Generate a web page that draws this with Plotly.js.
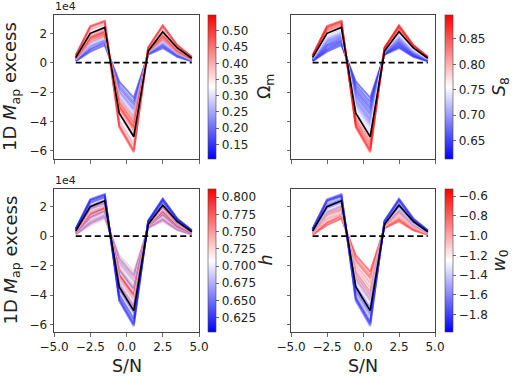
<!DOCTYPE html>
<html>
<head>
<meta charset="utf-8">
<script src="https://cdn.plot.ly/plotly-3.0.1.min.js"></script>
<style>
  html, body { margin: 0; padding: 0; background: #fff; }
  #chart { width: 519px; height: 377px; }
</style>
</head>
<body>
<div id="chart"></div>
<script>
// S/N bin centres
const snBins = [-3.5, -2.5, -1.5, -0.5, 0.5, 1.5, 2.5, 3.5, 4.5];

// fiducial cosmology excess (units of 1e4)
const fiducialExcess = [0.35, 2.0, 2.4, -3.45, -5.05, 0.8, 2.1, 1.0, 0.3];

// cosmological parameters of each model
const omegaM = [0.105, 0.160, 0.135, 0.210, 0.190, 0.250, 0.300, 0.240, 0.420, 0.470, 0.360, 0.520, 0.450,
                0.390, 0.549, 0.500, 0.430, 0.280, 0.480, 0.330, 0.310, 0.440, 0.290, 0.510, 0.535];
const s8 = [0.614, 0.625, 0.640, 0.632, 0.655, 0.668, 0.650, 0.680, 0.692, 0.672, 0.700, 0.688, 0.712,
            0.705, 0.722, 0.735, 0.745, 0.728, 0.760, 0.815, 0.840, 0.862, 0.850, 0.880, 0.897];
const hubble = [0.745, 0.640, 0.770, 0.660, 0.725, 0.690, 0.780, 0.630, 0.700, 0.760, 0.812, 0.795, 0.735,
                0.680, 0.750, 0.715, 0.650, 0.785, 0.670, 0.620, 0.700, 0.604, 0.640, 0.615, 0.610];
const w0 = [-0.529, -0.750, -0.620, -1.100, -0.880, -1.350, -0.950, -1.200, -0.700, -1.050, -1.500, -0.820, -1.150,
            -1.650, -0.990, -1.400, -1.280, -1.750, -1.550, -1.850, -1.700, -1.450, -1.900, -1.976, -1.800];

// 1D Map excess of each model (units of 1e4), one row per model
const modelExcess = [
  [0.10, 0.75, 1.20, -1.30, -2.40, 0.55, 1.00, 0.40, 0.10],
  [0.13, 0.87, 1.31, -1.51, -2.65, 0.58, 1.11, 0.45, 0.12],
  [0.15, 0.94, 1.42, -1.70, -2.85, 0.63, 1.17, 0.50, 0.14],
  [0.17, 1.06, 1.49, -1.85, -3.05, 0.64, 1.27, 0.54, 0.15],
  [0.19, 1.15, 1.54, -1.99, -3.20, 0.68, 1.31, 0.57, 0.17],
  [0.20, 1.20, 1.62, -2.10, -3.35, 0.68, 1.40, 0.61, 0.18],
  [0.22, 1.25, 1.71, -2.24, -3.50, 0.71, 1.44, 0.63, 0.19],
  [0.24, 1.34, 1.76, -2.35, -3.65, 0.72, 1.52, 0.67, 0.20],
  [0.25, 1.43, 1.80, -2.45, -3.80, 0.73, 1.60, 0.71, 0.21],
  [0.26, 1.46, 1.87, -2.58, -3.90, 0.76, 1.62, 0.72, 0.22],
  [0.27, 1.51, 1.93, -2.64, -4.00, 0.77, 1.69, 0.75, 0.23],
  [0.28, 1.57, 1.95, -2.72, -4.10, 0.78, 1.71, 0.77, 0.24],
  [0.29, 1.60, 2.00, -2.81, -4.20, 0.79, 1.75, 0.79, 0.25],
  [0.31, 1.64, 2.06, -2.91, -4.30, 0.80, 1.79, 0.82, 0.26],
  [0.32, 1.70, 2.09, -2.98, -4.40, 0.82, 1.86, 0.84, 0.27],
  [0.33, 1.77, 2.16, -3.10, -4.55, 0.84, 1.90, 0.87, 0.28],
  [0.35, 1.84, 2.22, -3.23, -4.70, 0.85, 1.97, 0.89, 0.29],
  [0.36, 1.90, 2.30, -3.37, -4.85, 0.88, 2.02, 0.93, 0.30],
  [0.38, 1.98, 2.36, -3.48, -5.00, 0.90, 2.09, 0.96, 0.31],
  [0.40, 2.07, 2.45, -3.65, -5.20, 0.93, 2.17, 1.01, 0.33],
  [0.42, 2.17, 2.53, -3.83, -5.40, 0.95, 2.25, 1.05, 0.34],
  [0.45, 2.26, 2.63, -3.98, -5.60, 0.98, 2.34, 1.09, 0.36],
  [0.47, 2.36, 2.71, -4.15, -5.80, 1.01, 2.43, 1.13, 0.38],
  [0.48, 2.43, 2.78, -4.27, -5.95, 1.03, 2.49, 1.17, 0.39],
  [0.50, 2.50, 2.85, -4.40, -6.10, 1.05, 2.55, 1.20, 0.40]
];

// axis tick values
const xTicks = [-5, -2.5, 0, 2.5, 5];
const yTicks = [-6, -4, -2, 0, 2];

const W = 519, H = 377;
const FONT = 'DejaVu Sans, sans-serif';
const TXT = '#222';
const EDGE = '#444';

// blue-white-red map
function bwr(v) {
  v = Math.max(0, Math.min(1, v));
  let r, g, b;
  if (v < 0.5) { r = g = Math.round(510 * v); b = 255; }
  else { r = 255; g = b = Math.round(510 * (1 - v)); }
  return `rgb(${r},${g},${b})`;
}
const bwrScale = [[0, 'rgb(0,0,255)'], [0.5, 'rgb(255,255,255)'], [1, 'rgb(255,0,0)']];

// panel pixel boxes (left, top, right, bottom) and colour bars
const colL = [54, 199], colR = [291, 435];
const rowT = [15, 159], rowB = [189, 332];
const panels = [
  { param: omegaM, title: 'Ω<sub>m</sub>', cols: colL, rows: rowT, cbX: 208, dtick: 0.05, tick0: 0.1, fmt: '.2f', yr: [-6.566, 3.247] },
  { param: s8, title: '<i>S</i><sub>8</sub>', cols: colR, rows: rowT, cbX: 445, dtick: 0.05, tick0: 0.6, fmt: '.2f', yr: [-6.566, 3.247] },
  { param: hubble, title: '<i>h</i>', cols: colL, rows: rowB, cbX: 208, dtick: 0.025, tick0: 0.6, fmt: '.3f', yr: [-6.50, 3.20] },
  { param: w0, title: '<i>w</i><sub>0</sub>', cols: colR, rows: rowB, cbX: 445, dtick: 0.2, tick0: -2.0, fmt: '.1f', yr: [-6.50, 3.20] }
];

const px = x => x / W;
const py = y => 1 - y / H;

const traces = [];
const layout = {
  width: W, height: H,
  margin: { l: 0, r: 0, t: 0, b: 0 },
  paper_bgcolor: '#fff', plot_bgcolor: '#fff',
  showlegend: false,
  font: { family: FONT, color: TXT, size: 12 },
  annotations: []
};

panels.forEach((p, i) => {
  const n = i + 1;
  const xa = n === 1 ? 'x' : 'x' + n;
  const ya = n === 1 ? 'y' : 'y' + n;
  const lo = Math.min(...p.param), hi = Math.max(...p.param);
  const isBottom = p.rows === rowB;
  const isLeft = p.cols === colL;

  // model curves coloured by the parameter
  modelExcess.forEach((row, k) => {
    traces.push({
      type: 'scatter', mode: 'lines', x: snBins, y: row, xaxis: xa, yaxis: ya,
      line: { color: bwr((p.param[k] - lo) / (hi - lo)), width: 2 },
      opacity: 0.5, hoverinfo: 'skip'
    });
  });
  // fiducial
  traces.push({
    type: 'scatter', mode: 'lines', x: snBins, y: fiducialExcess, xaxis: xa, yaxis: ya,
    line: { color: '#000', width: 1.6 }, hoverinfo: 'skip'
  });
  // zero reference
  traces.push({
    type: 'scatter', mode: 'lines', x: [snBins[0], snBins[snBins.length - 1]], y: [0, 0], xaxis: xa, yaxis: ya,
    line: { color: '#000', width: 1.7, dash: '6px,3.5px' }, hoverinfo: 'skip'
  });
  // colour bar carrier
  traces.push({
    type: 'scatter', mode: 'markers', x: p.param.map(() => null), y: p.param.map(() => null),
    xaxis: xa, yaxis: ya, hoverinfo: 'skip',
    marker: {
      color: p.param, colorscale: bwrScale, cmin: lo, cmax: hi, opacity: 0, showscale: true,
      colorbar: {
        x: px(p.cbX), xanchor: 'left', xpad: 0, ypad: 0,
        y: py(p.rows[0]), yanchor: 'top', len: p.rows[1] - p.rows[0], lenmode: 'pixels',
        thickness: 8, thicknessmode: 'pixels',
        outlinewidth: 0.6, outlinecolor: EDGE, borderwidth: 0,
        ticks: 'outside', ticklen: 3.5, tickwidth: 0.8, tickcolor: EDGE,
        tick0: p.tick0, dtick: p.dtick, tickformat: p.fmt,
        tickfont: { family: FONT, size: 12, color: TXT }
      }
    }
  });

  layout['xaxis' + (n === 1 ? '' : n)] = {
    domain: [px(p.cols[0]), px(p.cols[1])], anchor: ya, range: [-5, 5],
    tickvals: xTicks, tickformat: '.1f', showticklabels: isBottom,
    ticks: 'outside', ticklen: 3.5, tickwidth: 0.8, tickcolor: EDGE,
    showline: true, mirror: true, linecolor: EDGE, linewidth: 1,
    showgrid: false, zeroline: false,
    tickfont: { family: FONT, size: 12, color: TXT }
  };
  layout['yaxis' + (n === 1 ? '' : n)] = {
    domain: [py(p.rows[1]), py(p.rows[0])], anchor: xa, range: p.yr,
    tickvals: yTicks, showticklabels: isLeft,
    ticks: 'outside', ticklen: 3.5, tickwidth: 0.8, tickcolor: EDGE,
    showline: true, mirror: true, linecolor: EDGE, linewidth: 1,
    showgrid: false, zeroline: false,
    tickfont: { family: FONT, size: 12, color: TXT }
  };

  // colour bar label
  layout.annotations.push({
    text: p.title, xref: 'paper', yref: 'paper', showarrow: false,
    x: px(isLeft ? 265 : 500), y: py((p.rows[0] + p.rows[1]) / 2),
    xanchor: 'center', yanchor: 'middle', textangle: -90,
    font: { family: FONT, size: 17.5, color: TXT }
  });

  if (isLeft) {
    layout.annotations.push({
      text: '1e4', xref: 'paper', yref: 'paper', showarrow: false,
      x: px(p.cols[0]), y: py(p.rows[0] - 1), xanchor: 'left', yanchor: 'bottom',
      borderpad: 0,
      font: { family: FONT, size: 11, color: TXT }
    });
    layout.annotations.push({
      text: '1D <i>M</i><sub>ap</sub> excess', xref: 'paper', yref: 'paper', showarrow: false,
      x: px(11), y: py((p.rows[0] + p.rows[1]) / 2),
      xanchor: 'center', yanchor: 'middle', textangle: -90,
      font: { family: FONT, size: 18, color: TXT }
    });
  }
  if (isBottom) {
    layout.annotations.push({
      text: 'S/N', xref: 'paper', yref: 'paper', showarrow: false,
      x: px((p.cols[0] + p.cols[1]) / 2), y: py(366),
      xanchor: 'center', yanchor: 'middle',
      font: { family: FONT, size: 17.5, color: TXT }
    });
  }
});

Plotly.newPlot('chart', traces, layout, { staticPlot: true, displayModeBar: false });
</script>
</body>
</html>
